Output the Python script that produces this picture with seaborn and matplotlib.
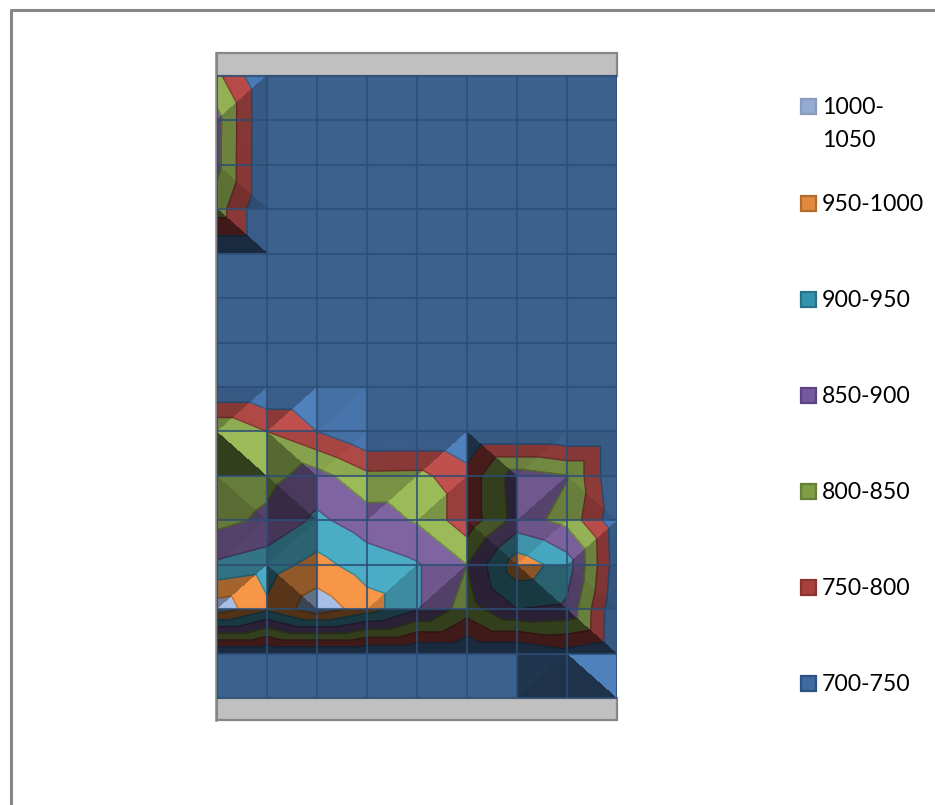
import numpy as np
import matplotlib
matplotlib.use("Agg")
import matplotlib.pyplot as plt
import matplotlib.tri as mtri
from matplotlib.lines import Line2D
from matplotlib.patches import Rectangle
import seaborn as sns

# Surface height along each series column, top row first
col_0 = [812, 865, 863, 824, 700, 700, 700, 700, 846, 815, 834, 908, 1030, 700, 700]
col_1 = [700, 700, 700, 700, 700, 700, 700, 700, 800, 835, 860, 928, 960, 700, 700]
col_2 = [700, 700, 700, 700, 700, 700, 700, 700, 750, 870, 910, 967, 1031, 700, 700]
col_3 = [700, 700, 700, 700, 700, 700, 700, 700, 700, 812, 875, 925, 975, 700, 700]
col_4 = [700, 700, 700, 700, 700, 700, 700, 700, 700, 814, 845, 905, 905, 700, 700]
col_5 = [700, 700, 700, 700, 700, 700, 700, 700, 700, 770, 770, 850, 825, 700, 700]
col_6 = [700, 700, 700, 700, 700, 700, 700, 700, 700, 875, 870, 980, 900, 700, 700]
col_7 = [700, 700, 700, 700, 700, 700, 700, 700, 700, 852, 835, 925, 890, 730, 700]
col_8 = [700, 700, 700, 700, 700, 700, 700, 700, 700, 700, 715, 720, 705, 700, 700]

band_edges = [700, 750, 800, 850, 900, 950, 1000, 1050]
legend_labels = ["1000-\n1050", "950-1000", "900-950", "850-900", "800-850", "750-800", "700-750"]
band_hex = ["#4F81BD", "#C0504D", "#9BBB59", "#8064A2", "#4BACC6", "#F79646", "#A7BFE8"]
line_hex = ["#3A6496", "#943B38", "#75903F", "#5F4A7C", "#2F8AA3", "#C97428", "#8094BC"]
swatch_hex = ["#94ABD2", "#E08A40", "#3494AE", "#7559A0", "#7F9E47", "#A8403D", "#3E6A9F"]
swatch_edge = ["#8A9ABB", "#B36A2B", "#2A7186", "#5D4480", "#66803A", "#8A3331", "#2E5280"]

sns.set_theme(style="white")
plt.rcParams["font.family"] = ["Lato", "DejaVu Sans"]

surface = np.array([col_0, col_1, col_2, col_3, col_4, col_5, col_6, col_7, col_8], float)
n_cols, n_rows = surface.shape

fig = plt.figure(figsize=(9.35, 8.05), dpi=100)
W, H = 935.0, 805.0
ax = fig.add_axes([217 / W, 1 - 720 / H, 400 / W, 667 / H])
cell_w, cell_h = 50.0, 622.0 / 14

# Split every cell along its higher diagonal, the way a surface folds over a ridge
xx, yy = np.meshgrid(np.arange(n_cols), np.arange(n_rows), indexing="ij")
node = lambda i, j: i * n_rows + j
tris = []
for i in range(n_cols - 1):
    for j in range(n_rows - 1):
        tl, tr, bl, br = node(i, j), node(i + 1, j), node(i, j + 1), node(i + 1, j + 1)
        if surface[i, j] + surface[i + 1, j + 1] >= surface[i + 1, j] + surface[i, j + 1]:
            tris += [(tl, bl, br), (tl, tr, br)]
        else:
            tris += [(tl, tr, bl), (tr, bl, br)]
tris = np.array(tris)
x_flat, y_flat, z_flat = xx.ravel().astype(float), yy.ravel().astype(float), surface.ravel()
mesh = mtri.Triangulation(x_flat, y_flat, tris)

# Filled bands and their outlines
levels = list(band_edges)
levels[0] = min(z_flat.min(), band_edges[0]) - 1
ax.tricontourf(mesh, z_flat, levels=levels, colors=sns.color_palette(band_hex), zorder=2)
ax.tricontour(mesh, z_flat, levels=band_edges[1:], colors=line_hex[:len(band_edges) - 1],
              linewidths=1.1, zorder=3)

# Facet lighting: a Lambert term per triangle, rasterised as a black veil so that
# neighbouring facets share no overlapping edge pixels
light = np.array([0.5, 0.5, 0.7])
relief = 0.6
veil = np.zeros(len(tris))
for k, t in enumerate(tris):
    a = np.c_[x_flat[t] * cell_w, y_flat[t] * cell_h, np.ones(3)]
    zx, zy, _ = np.linalg.solve(a, z_flat[t])
    if abs(zx) + abs(zy) < 1e-9:
        shade = 0.7
    else:
        normal = np.array([-zx, zy, relief])
        shade = normal @ light / np.linalg.norm(normal)
    if shade >= 0.7:
        factor = min(0.75 + (shade - 0.7) * 0.25 / 0.15, 1.0)
    else:
        factor = 0.75 - (0.7 - max(shade, 0.0)) * 0.42 / 0.7
    veil[k] = 1 - factor

px_x = (np.arange(400) + 0.5) / cell_w
px_y = (np.arange(622) + 0.5) / cell_h
gx, gy = np.meshgrid(px_x, px_y)
which = mesh.get_trifinder()(gx, gy)
veil_rgba = np.zeros(gx.shape + (4,))
veil_rgba[..., 3] = np.where(which >= 0, veil[which], 0.0)
ax.imshow(veil_rgba, extent=(0, n_cols - 1, n_rows - 1, 0), aspect="auto",
          interpolation="nearest", zorder=4)

# Grid over the surface
ax.hlines(np.arange(n_rows), 0, n_cols - 1, color="#2C4D75", alpha=0.8, lw=1.5, zorder=5)
ax.vlines(np.arange(n_cols), 0, n_rows - 1, color="#2C4D75", alpha=0.8, lw=1.5, zorder=5)

# Grey walls above and below the surface
top_lim, bottom_lim = -23 / cell_h, 14 + 22 / cell_h
ax.set_xlim(0, n_cols - 1)
ax.set_ylim(bottom_lim, top_lim)
for y0, y1 in [(top_lim, 0), (n_rows - 1, bottom_lim)]:
    ax.add_patch(Rectangle((0, y0), n_cols - 1, y1 - y0, facecolor="#C0C0C0",
                           edgecolor="#868686", lw=1.6, zorder=1, clip_on=False))
ax.set_xticks([])
ax.set_yticks([])
sns.despine(ax=ax, top=True, right=True, bottom=True, left=False)
ax.spines["left"].set_color("#868686")
ax.spines["left"].set_linewidth(1.8)
ax.spines["left"].set_position(("outward", 1))
ax.patch.set_alpha(0)

# Chart frame, open towards the right and bottom
fig.add_artist(Line2D([10.5 / W, 1], [1 - 10.5 / H] * 2, color="#868686", lw=2.2))
fig.add_artist(Line2D([10.5 / W] * 2, [0, 1 - 10 / H], color="#868686", lw=2.2))

# Legend entries
swatch_tops = [98, 195, 291, 387, 483, 579, 675]
for label, top, fc, ec in zip(legend_labels, swatch_tops, swatch_hex, swatch_edge):
    fig.add_artist(Rectangle((801 / W, 1 - (top + 16) / H), 15 / W, 15 / H,
                             facecolor=fc, edgecolor=ec, lw=1.6, transform=fig.transFigure))
    fig.text(822 / W, 1 - (top - 1) / H, label, fontsize=16.6, va="top", ha="left",
             color="#000000", linespacing=1.72)

fig.savefig("out.png", dpi=100)
